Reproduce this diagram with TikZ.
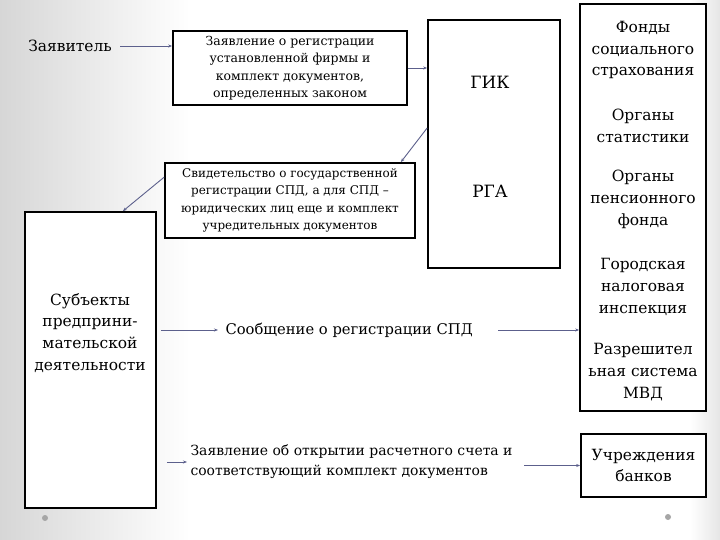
\documentclass[tikz,border=0pt]{standalone}
\usepackage{fontspec}
\setmainfont{DejaVu Serif}
\usetikzlibrary{arrows.meta}

\definecolor{linkgray}{RGB}{92,96,140}

\tikzset{
  frame/.style={draw=black,line width=1.7pt,fill=white,inner sep=0pt},
  link/.style={draw=linkgray,line width=0.9pt,-{Stealth[length=4pt,width=3pt]}},
  small/.style={font=\fontsize{12.5}{17.5}\selectfont,align=center},
  big/.style={font=\fontsize{15.5}{22}\selectfont,align=center}
}

\begin{document}
\begin{tikzpicture}[x=1bp,y=-1bp]
\useasboundingbox (0,0) rectangle (720,540);
\fill[white] (0,0) rectangle (720,540);
\shade[left color=black!16,right color=white] (0,0) rectangle (190,540);
\shade[left color=white,right color=black!10] (690,0) rectangle (720,540);

% boxes
\node[frame,minimum width=234bp,minimum height=74bp] (app) at (290,68) {};
\node[frame,minimum width=132bp,minimum height=248bp] (gik) at (494,144) {};
\node[frame,minimum width=250bp,minimum height=75bp] (cert) at (290,200.5) {};
\node[frame,minimum width=131bp,minimum height=296bp] (subj) at (90.5,360) {};
\node[frame,minimum width=126bp,minimum height=407bp] (org) at (643,207.5) {};
\node[frame,minimum width=125bp,minimum height=63bp] (bank) at (643.5,465.5) {};

% texts
\node[big] (applicant) at (70,46) {Заявитель};
\node[small] at (app) {Заявление о регистрации\\установленной фирмы и\\комплект документов,\\определенных законом};
\node[small,font=\fontsize{12}{17.5}\selectfont] at (cert) {Свидетельство о государственной\\регистрации СПД, а для СПД --\\юридических лиц еще и комплект\\учредительных документов};
\node[big,font=\fontsize{17}{20}\selectfont] (gikt) at (490,82) {ГИК};
\node[big,font=\fontsize{17}{20}\selectfont] (rga) at (490,191) {РГА};
\node[big] (subjt) at (90,333) {Субъекты\\предприни-\\мательской\\деятельности};
\node[big,anchor=west,font=\fontsize{14.8}{20}\selectfont] (msg) at (222,330) {Сообщение о регистрации СПД};
\node[big,anchor=west,align=left,font=\fontsize{14}{20}\selectfont] (acct) at (187,462) {Заявление об открытии расчетного счета и\\соответствующий комплект документов};
\node[big] (fss) at (643,50) {Фонды\\социального\\страхования};
\node[big] (stat) at (643,126) {Органы\\статистики};
\node[big] (pf) at (643,199) {Органы\\пенсионного\\фонда};
\node[big] (tax) at (643,287) {Городская\\налоговая\\инспекция};
\node[big] (mvd) at (643,372) {Разрешител\\ьная система\\МВД};
\node[big] (bankt) at (bank) {Учреждения\\банков};

% connectors
\draw[link] (applicant.east) ++(5,0) -- (app.west |- applicant.east);
\draw[link] (app.east) -- (app.east -| gik.west);
\draw[link] (gik.west) ++(0,-16) -- ([xshift=-15bp]cert.north east);
\draw[link] ([yshift=-15bp]cert.north west) -- ([xshift=-34bp]subj.north east);
\draw[link] ([xshift=4bp]subj.east |- msg.west) -- ([xshift=-4bp]msg.west);
\draw[link] ([xshift=22bp]msg.east) -- (msg.east -| org.west);
\draw[link] ([xshift=10bp]subj.east |- acct.west) -- (acct.west);
\draw[link] ([xshift=8bp]acct.east |- bank.west) -- (bank.west);

% dots
\fill[gray!70] (45,518) circle (3);
\fill[gray!70] (668,517) circle (3);
\end{tikzpicture}
\end{document}
